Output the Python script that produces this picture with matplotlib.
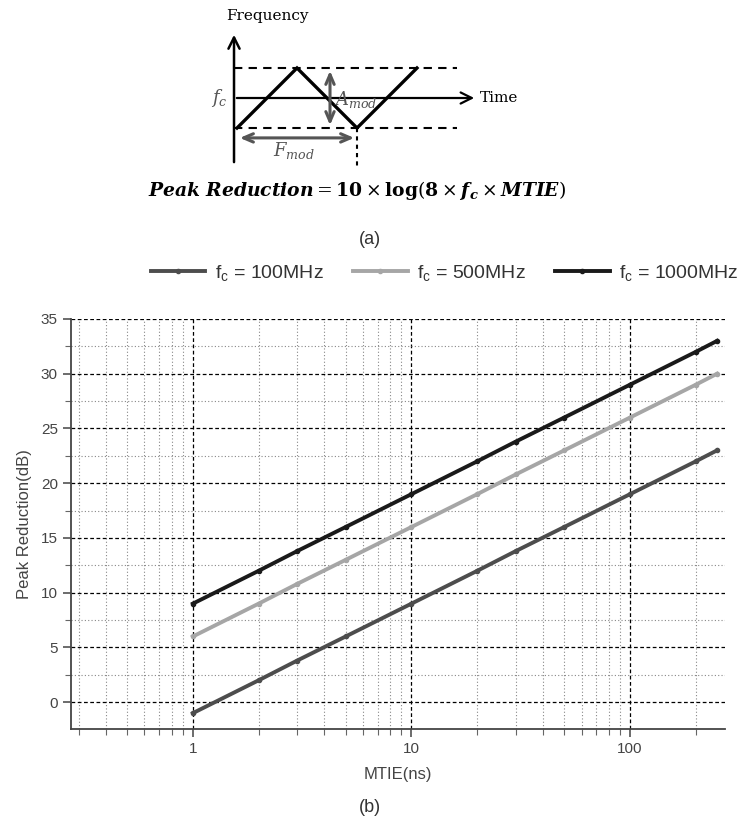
import matplotlib
matplotlib.use("Agg")
import matplotlib.pyplot as plt
from matplotlib.ticker import MultipleLocator, LogLocator, NullFormatter

plt.rcParams['font.family'] = ['Liberation Sans', 'DejaVu Sans']
plt.rcParams['mathtext.fontset'] = 'dejavuserif'

# values (MTIE in ns, peak reduction in dB)
mtie = [1, 2, 3, 5, 10, 20, 30, 50, 100, 200, 250]
pr_100 = [-1.0, 2.0, 3.8, 6.0, 9.0, 12.0, 13.8, 16.0, 19.0, 22.0, 23.0]
pr_500 = [6.0, 9.0, 10.8, 13.0, 16.0, 19.0, 20.8, 23.0, 26.0, 29.0, 30.0]
pr_1000 = [9.0, 12.0, 13.8, 16.0, 19.0, 22.0, 23.8, 26.0, 29.0, 32.0, 33.0]
series_labels = [r"$\mathregular{f_c}$ = 100MHz", r"$\mathregular{f_c}$ = 500MHz",
                 r"$\mathregular{f_c}$ = 1000MHz"]
x_ticks = [1, 10, 100]
x_tick_labels = ["1", "10", "100"]
y_ticks = [0, 5, 10, 15, 20, 25, 30, 35]

# schematic of the modulated clock (time units / frequency units)
wave_t = [0, 1, 2, 3]
wave_f = [-1, 1, -1, 1]

fig = plt.figure(figsize=(7.4, 8.26), dpi=100)

# ---- (a) diagram ----
d = fig.add_axes([200/740, 1 - 170/826, 320/740, 170/826])
d.set_xlim(-0.617, 4.717)
d.set_ylim(-2.4, 3.267)
d.axis("off")
d.annotate("", xy=(-0.05, 2.2), xytext=(-0.05, -2.23),
           arrowprops=dict(arrowstyle="->,head_length=0.8,head_width=0.4", lw=1.8, color="black"))
d.annotate("", xy=(4.0, 0), xytext=(-0.05, 0),
           arrowprops=dict(arrowstyle="->,head_length=0.8,head_width=0.4", lw=1.6, color="black"))
d.plot([-0.05, 3.67], [1, 1], color="black", lw=1.5, ls=(0, (4, 3)))
d.plot([-0.05, 3.67], [-1, -1], color="black", lw=1.5, ls=(0, (4, 3)))
d.plot([2, 2], [-1, -2.25], color="black", lw=1.5, ls=(0, (2, 2)))
d.plot(wave_t, wave_f, color="black", lw=2.4, solid_joinstyle="miter")
d.annotate("", xy=(1.55, 1), xytext=(1.55, -1),
           arrowprops=dict(arrowstyle="<->,head_length=0.7,head_width=0.3", lw=2.2, color="#555555"))
d.annotate("", xy=(2.0, -1.33), xytext=(0.0, -1.33),
           arrowprops=dict(arrowstyle="<->,head_length=0.7,head_width=0.3", lw=2.2, color="#555555"))
d.text(0.5, 2.75, "Frequency", family="DejaVu Serif", fontsize=11, ha="center", va="center")
d.text(4.05, 0, "Time", family="DejaVu Serif", fontsize=11, ha="left", va="center")
d.text(-0.3, 0, r"$f_c$", fontsize=13, color="#555555", ha="center", va="center")
d.text(1.62, -0.05, r"$A_{mod}$", fontsize=13, color="#555555", ha="left", va="center")
d.text(0.95, -1.75, r"$F_{mod}$", fontsize=13, color="#555555", ha="center", va="center")

fig.text(357/740, 1 - 190/826,
         r"$\mathbfit{Peak\ Reduction} = \mathbf{10} \times \mathbf{log}(\mathbf{8} \times \mathbfit{f}_{\mathbfit{c}} \times \mathbfit{MTIE})$",
         ha="center", va="center", fontsize=13.5)
fig.text(370/740, 1 - 240/826, "(a)", ha="center", va="center", fontsize=13, color="#333333")
fig.text(370/740, 1 - 808/826, "(b)", ha="center", va="center", fontsize=13, color="#333333")

# ---- (b) chart ----
ax = fig.add_axes([71/740, 97/826, 654/740, 410/826])
colors = ["#4d4d4d", "#a6a6a6", "#1a1a1a"]
for ys, c, lab in zip([pr_100, pr_500, pr_1000], colors, series_labels):
    ax.plot(mtie, ys, color=c, lw=2.8, marker="o", ms=3, label=lab, zorder=3)

ax.set_xscale("log")
ax.set_xlim(0.277, 272)
ax.set_ylim(-2.45, 35)
ax.set_xticks(x_ticks)
ax.set_xticklabels(x_tick_labels)
ax.xaxis.set_minor_locator(LogLocator(base=10, subs=[2, 3, 4, 5, 6, 7, 8, 9]))
ax.xaxis.set_minor_formatter(NullFormatter())
ax.set_yticks(y_ticks)
ax.yaxis.set_minor_locator(MultipleLocator(2.5))

ax.grid(which="major", color="black", ls=(0, (3, 2)), lw=0.9)
ax.grid(which="minor", color="#888888", ls=(0, (1, 2)), lw=0.8)
ax.set_axisbelow(True)
for s in ["top", "right"]:
    ax.spines[s].set_visible(False)
for s in ["left", "bottom"]:
    ax.spines[s].set_color("#444444")
    ax.spines[s].set_linewidth(1.3)
ax.tick_params(which="major", direction="out", length=6, width=1.1, colors="#444444",
               labelsize=11, labelcolor="#444444")
ax.tick_params(which="minor", direction="out", length=4, width=0.8, colors="#666666")

ax.set_xlabel("MTIE(ns)", fontsize=12, color="#444444", labelpad=8)
ax.set_ylabel("Peak Reduction(dB)", fontsize=12, color="#444444", labelpad=6)

fig.legend(loc="center", bbox_to_anchor=(445/740, 1 - 273/826), ncol=3, frameon=False,
           fontsize=14, handlelength=2.8, columnspacing=1.5, handletextpad=0.5,
           labelcolor="#333333")

fig.savefig("out.png", dpi=100, facecolor="white")
